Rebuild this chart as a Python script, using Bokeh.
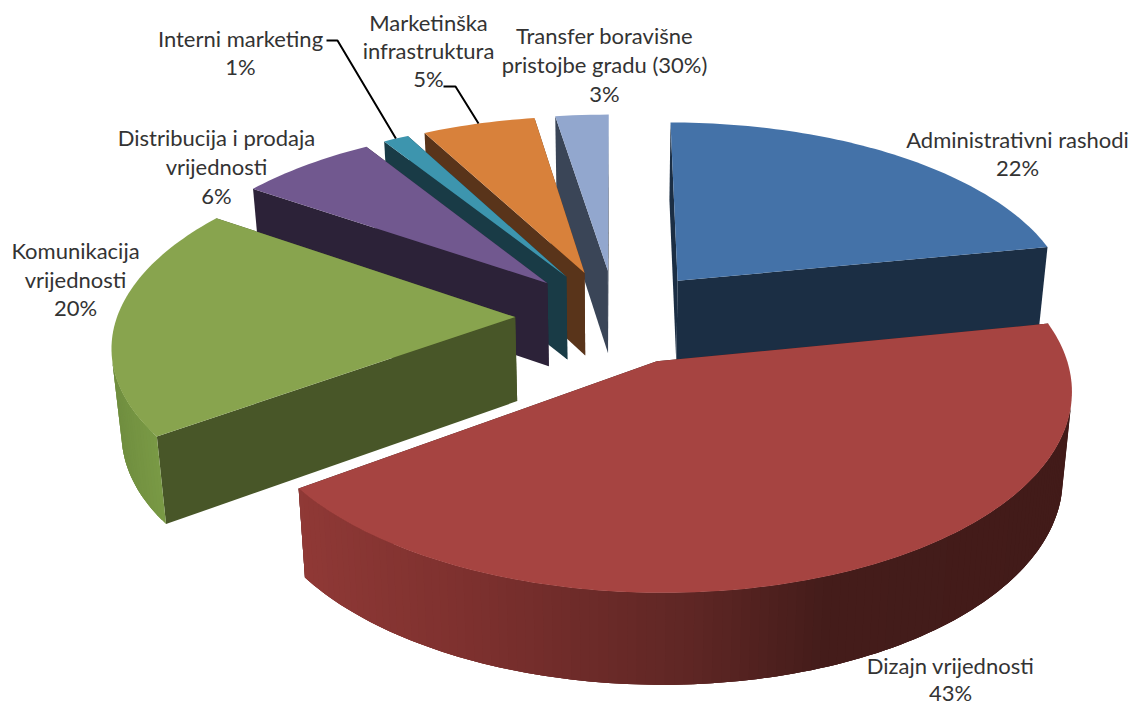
import numpy as np
from bokeh.core.properties import value
from bokeh.embed import file_html
from bokeh.models import ColumnDataSource, Range1d
from bokeh.plotting import figure
from bokeh.resources import INLINE

# ---- data (pie order, clockwise from 12 o'clock)
categories = ["Administrativni rashodi", "Dizajn vrijednosti", "Komunikacija vrijednosti",
              "Distribucija i prodaja vrijednosti", "Interni marketing",
              "Marketinška infrastruktura", "Transfer boravišne pristojbe gradu (30%)"]
shares = [21.9, 43.15, 19.5, 6.45, 1.2, 5.3, 2.5]
top_colors = ["#4472A8", "#A64441", "#88A44E", "#71588F", "#3D95AE", "#D8813B", "#92A7CE"]
face_colors = ["#1B2E44", "#421C1A", "#485628", "#2C2238", "#193B46", "#59341A", "#3A4557"]
# outer-rim shading of the two slices that show it: screen x stop -> colour
red_rim_stops = [(295, (0x90, 0x39, 0x36)), (480, (0x7C, 0x30, 0x2E)), (700, (0x5E, 0x26, 0x24)),
                 (830, (0x44, 0x1C, 0x1A)), (1075, (0x42, 0x1B, 0x19))]
green_rim_stops = [(105, (0x6E, 0x8C, 0x3E)), (165, (0x7B, 0x9B, 0x46))]
label_lines = [
    ["Administrativni rashodi", "22%"],
    ["Dizajn vrijednosti", "43%"],
    ["Komunikacija", "vrijednosti", "20%"],
    ["Distribucija i prodaja", "vrijednosti", "6%"],
    ["Interni marketing", "1%"],
    ["Marketinška", "infrastruktura", "5%"],
    ["Transfer boravišne", "pristojbe gradu (30%)", "3%"],
]

# ---- layout of the projected pie
W, H = 1135, 706           # plot size; the plot starts at the page's top-left corner
CX, CY = 615.0, 316.0      # centre on the page
RX, RY = 398.0, 188.0      # plane radii
PERSP = 0.132              # perspective of the top plane
EXPL = 0.252               # explosion, in radii
DEPTH = 84.0               # wall height at centre
DEPTH_P = 0.07             # perspective of wall height
BOTTOM_SHRINK = 0.98       # lower rim is slightly narrower
LABEL_ANCHOR = [(1017, [139, 167]), (950, [665, 692]), (75, [250, 279, 307]),
                (216, [137, 166, 195]), (240, [38, 66]), (428, [22, 50, 78]), (604, [35, 64, 93])]
LEADER_START = {4: [(326, 40), (337, 40)], 5: [(443, 86), (455, 86)]}


def project(u, v):
    s = 1.0 / (1.0 - PERSP * v)
    return CX + RX * u * s, CY + RY * v * s


def top_and_bottom(u, v):
    x, y = project(u, v)
    return x, y, CX + (x - CX) * BOTTOM_SHRINK, y + DEPTH / (1.0 - DEPTH_P * v)


def shade(x, stops):
    xs = [s[0] for s in stops]
    rgb = [int(round(np.interp(x, xs, [s[1][c] for s in stops]))) for c in range(3)]
    return "#%02x%02x%02x" % tuple(rgb)


edges = np.cumsum([0.0] + shares) / sum(shares) * 2 * np.pi
draw_order = [6, 5, 4, 3, 0, 2, 1]   # back to front

p = figure(width=W, height=H, x_range=Range1d(0, W), y_range=Range1d(H, 0),
           output_backend="svg", toolbar_location=None, min_border=0,
           background_fill_color="white", border_fill_color="white", outline_line_color=None)
p.axis.visible = False
p.grid.visible = False

xs, ys, fills = [], [], []
leader_ends = {}
for i in draw_order:
    a0, a1 = edges[i], edges[i + 1]
    mid = (a0 + a1) / 2
    ou, ov = EXPL * np.sin(mid), -EXPL * np.cos(mid)
    t = np.linspace(a0, a1, max(int((a1 - a0) / 0.02), 6))
    u, v = ou + np.sin(t), ov - np.cos(t)
    tx, ty, bx, by = top_and_bottom(u, v)
    ax, ay, abx, aby = top_and_bottom(ou, ov)
    leader_ends[i] = project(ou + np.sin(mid), ov - np.cos(mid))

    # radial faces: end face first, start face over it
    for j in (-1, 0):
        xs.append([ax, tx[j], bx[j], abx])
        ys.append([ay, ty[j], by[j], aby])
        fills.append(face_colors[i])
    # visible part of the outer rim; each strip overlaps the next so no seams show
    if i in (1, 2):
        stops = red_rim_stops if i == 1 else green_rim_stops
        vis = [k for k in range(len(t) - 1)
               if (tx[k + 1] - tx[k]) * (by[k] - ty[k]) - (ty[k + 1] - ty[k]) * (bx[k] - tx[k]) < 0]
        last = vis[-1] + 1
        for k in vis:
            arc = list(range(k, min(k + 3, last) + 1))
            xs.append([tx[m] for m in arc] + [bx[m] for m in reversed(arc)])
            ys.append([ty[m] for m in arc] + [by[m] for m in reversed(arc)])
            fills.append(shade(tx[k], stops))
    # top surface
    xs.append([ax] + list(tx))
    ys.append([ay] + list(ty))
    fills.append(top_colors[i])

p.patches("xs", "ys", fill_color="fills", line_color=None,
          source=ColumnDataSource(dict(xs=xs, ys=ys, fills=fills)))

# leader lines
for i, start in LEADER_START.items():
    ex, ey = leader_ends[i]
    p.line([q[0] for q in start] + [ex], [q[1] for q in start] + [ey],
           line_color="#000000", line_width=2)

# labels
lx, ly, lt = [], [], []
for (cx, rows), lines in zip(LABEL_ANCHOR, label_lines):
    for y, s in zip(rows, lines):
        lx.append(cx); ly.append(y); lt.append(s)
p.text("x", "y", text="t", source=ColumnDataSource(dict(x=lx, y=ly, t=lt)),
       text_font=value("Lato"), text_font_size="22px", text_color="#333333",
       text_align="center", text_baseline="middle")

open("out.html", "w").write(file_html(p, INLINE))
